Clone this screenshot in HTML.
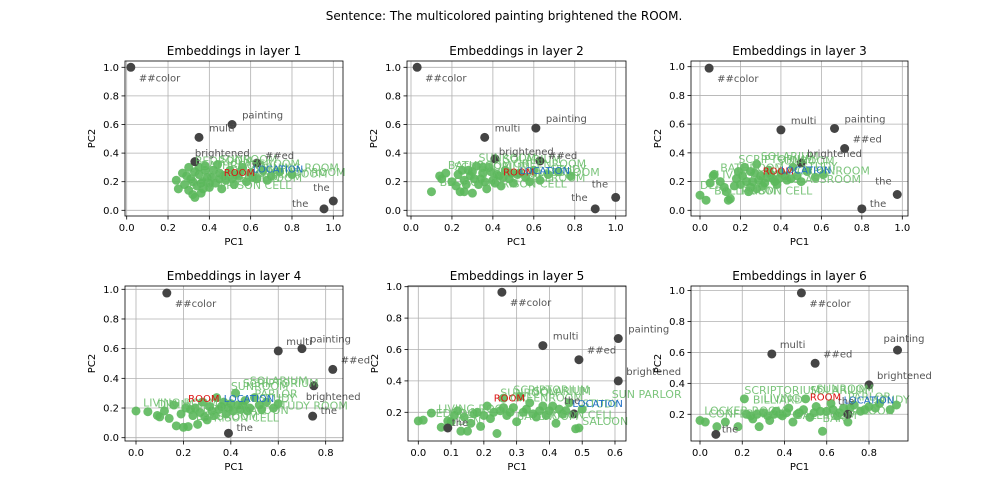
<!DOCTYPE html>
<html><head><meta charset="utf-8"><style>
body{margin:0;background:#fff}
svg{display:block;font-family:"DejaVu Sans","Liberation Sans",sans-serif}
</style></head><body>
<svg id="fig" width="1008" height="504" viewBox="0 0 1008 504">
<rect width="1008" height="504" fill="#fff"/>
<text x="504" y="20" font-size="12" text-anchor="middle" fill="#000">Sentence: The multicolored painting brightened the ROOM.</text>
</svg>
<script>
const tokenNames = ['##color','multi','painting','brightened','##ed','the','the'];
const tokX1=[0.02,0.35,0.51,0.33,0.63,1.0,0.955], tokY1=[1.0,0.51,0.60,0.34,0.33,0.065,0.01];
const tokX2=[0.03,0.36,0.61,0.41,0.63,1.0,0.9], tokY2=[1.0,0.51,0.575,0.36,0.345,0.09,0.01];
const tokX3=[0.045,0.40,0.665,0.5,0.715,0.975,0.8], tokY3=[0.99,0.56,0.57,0.33,0.43,0.11,0.01];
const tokX4=[0.13,0.6,0.7,0.75,0.83,0.745,0.39], tokY4=[0.975,0.585,0.6,0.35,0.46,0.145,0.03];
const tokX5=[0.255,0.38,0.61,0.61,0.49,0.475,0.09], tokY5=[0.965,0.625,0.67,0.40,0.535,0.19,0.10];
const tokX6=[0.48,0.34,0.935,0.8,0.545,0.075,0.7], tokY6=[0.985,0.59,0.615,0.39,0.53,0.07,0.2];

const gX1=[0.24,0.25,0.27,0.28,0.3,0.31,0.32,0.33,0.34,0.35,0.36,0.37,0.38,0.4,0.41,0.43,0.45,0.46,0.48,0.5,0.52,0.54,0.56,0.58,0.6,0.63,0.66,0.7,0.74,0.8,0.38,0.3,0.44,
 0.29,0.33,0.36,0.39,0.42,0.47,0.51,0.55,0.61,0.68,0.35,0.4,0.32,0.45,0.53,0.37];
const gY1=[0.21,0.15,0.26,0.18,0.14,0.22,0.11,0.09,0.17,0.25,0.12,0.2,0.28,0.16,0.23,0.19,0.26,0.15,0.21,0.28,0.18,0.24,0.3,0.2,0.26,0.22,0.28,0.24,0.27,0.25,0.31,0.3,0.32,
 0.24,0.27,0.19,0.23,0.28,0.24,0.22,0.27,0.23,0.21,0.3,0.19,0.2,0.22,0.25,0.15];
const gX2=[0.1,0.14,0.15,0.17,0.2,0.22,0.24,0.26,0.28,0.3,0.31,0.33,0.35,0.37,0.38,0.4,0.42,0.44,0.46,0.48,0.5,0.53,0.56,0.6,0.63,0.67,0.72,0.78,0.26,0.32,
 0.23,0.27,0.29,0.34,0.36,0.39,0.41,0.45,0.52,0.58,0.3,0.35,0.25,0.43,0.49];
const gY2=[0.13,0.24,0.22,0.26,0.2,0.17,0.13,0.13,0.28,0.12,0.22,0.18,0.26,0.15,0.3,0.21,0.25,0.17,0.28,0.22,0.19,0.26,0.23,0.28,0.21,0.25,0.27,0.24,0.21,0.31,
 0.25,0.18,0.24,0.22,0.2,0.27,0.19,0.23,0.25,0.2,0.27,0.3,0.28,0.24,0.26];
const gX3=[0.0,0.03,0.05,0.065,0.07,0.1,0.12,0.14,0.15,0.13,0.18,0.2,0.22,0.24,0.25,0.26,0.28,0.3,0.32,0.34,0.36,0.38,0.4,0.43,0.46,0.48,0.5,0.53,0.57,0.61,0.28,
 0.17,0.21,0.23,0.27,0.29,0.31,0.33,0.35,0.37,0.42,0.45,0.25,0.19,0.39];
const gY3=[0.105,0.07,0.19,0.24,0.25,0.2,0.16,0.07,0.08,0.13,0.22,0.18,0.3,0.13,0.27,0.2,0.15,0.24,0.19,0.28,0.22,0.18,0.26,0.21,0.3,0.24,0.2,0.27,0.23,0.25,0.32,
 0.17,0.24,0.2,0.26,0.21,0.17,0.23,0.25,0.2,0.24,0.22,0.16,0.27,0.22];
const gX4=[0.0,0.05,0.09,0.1,0.12,0.14,0.16,0.17,0.2,0.22,0.24,0.25,0.26,0.28,0.3,0.32,0.34,0.36,0.38,0.4,0.42,0.44,0.46,0.48,0.5,0.52,0.55,0.58,0.6,0.29,
 0.23,0.27,0.31,0.33,0.35,0.37,0.39,0.41,0.43,0.45,0.47,0.53,0.21,0.19];
const gY4=[0.18,0.175,0.15,0.14,0.18,0.13,0.22,0.08,0.07,0.075,0.15,0.2,0.09,0.24,0.12,0.18,0.27,0.21,0.16,0.23,0.3,0.19,0.25,0.2,0.27,0.22,0.24,0.2,0.23,0.14,
 0.19,0.17,0.21,0.15,0.19,0.24,0.2,0.18,0.22,0.22,0.18,0.19,0.2,0.16];
const gX5=[0.0,0.015,0.04,0.07,0.09,0.1,0.12,0.13,0.15,0.14,0.16,0.18,0.19,0.21,0.22,0.24,0.25,0.26,0.27,0.29,0.31,0.32,0.34,0.36,0.38,0.4,0.42,0.44,0.46,0.48,0.49,0.5,0.3,
 0.17,0.2,0.23,0.28,0.33,0.35,0.37,0.39,0.41,0.43,0.45,0.26,0.11];
const gY5=[0.145,0.15,0.195,0.105,0.145,0.14,0.21,0.08,0.08,0.17,0.13,0.2,0.11,0.24,0.16,0.065,0.21,0.29,0.18,0.23,0.3,0.2,0.26,0.17,0.24,0.21,0.13,0.19,0.26,0.095,0.1,0.22,0.14,
 0.19,0.18,0.2,0.2,0.22,0.19,0.21,0.18,0.24,0.22,0.21,0.23,0.18];
const gX6=[0.0,0.025,0.08,0.12,0.18,0.21,0.22,0.25,0.28,0.3,0.33,0.36,0.39,0.42,0.44,0.47,0.5,0.52,0.55,0.58,0.6,0.62,0.65,0.68,0.7,0.73,0.76,0.8,0.85,0.9,0.93,0.35,
 0.27,0.32,0.38,0.41,0.46,0.49,0.54,0.57,0.63,0.66,0.71,0.78,0.83,0.24];
const gY6=[0.16,0.15,0.12,0.15,0.12,0.3,0.2,0.17,0.12,0.21,0.16,0.22,0.19,0.24,0.15,0.21,0.3,0.18,0.25,0.09,0.22,0.27,0.19,0.24,0.15,0.26,0.22,0.25,0.27,0.23,0.26,0.2,
 0.2,0.19,0.2,0.21,0.2,0.23,0.21,0.22,0.23,0.21,0.24,0.23,0.24,0.19];

const lblT1=['BEDROOM','BATHROOM','SCRIPTORIUM','CLASSROOM','SUNROOM','GREENROOM','STUDY ROOM','PRISON CELL','LIVING ROOM','BALLROOM','DEN','SALOON','DINING ROOM'];
const lblX1=[0.33,0.36,0.3,0.5,0.45,0.62,0.7,0.45,0.38,0.55,0.3,0.5,0.65];
const lblY1=[0.32,0.29,0.22,0.3,0.33,0.23,0.24,0.15,0.2,0.2,0.15,0.25,0.27];
const lblT2=['SCRIPTORIUM','SUNROOM','SOLARIUM','BATHROOM','BEDROOM','PRISON CELL','CLASSROOM','STUDY','GREENROOM','LIVING ROOM','BALLROOM'];
const lblX2=[0.21,0.33,0.45,0.18,0.14,0.41,0.58,0.68,0.5,0.3,0.55];
const lblY2=[0.28,0.34,0.33,0.29,0.17,0.16,0.24,0.26,0.3,0.23,0.2];
const lblT3=['SCRIPTORIUM','SOLARIUM','BATHROOM','LIVING ROOM','DEN','BALLROOM','PRISON CELL','STUDY','CLASSROOM','GREENROOM','SUNROOM'];
const lblX3=[0.19,0.3,0.1,0.08,0.0,0.07,0.2,0.5,0.45,0.48,0.38];
const lblY3=[0.33,0.35,0.27,0.22,0.15,0.11,0.11,0.28,0.19,0.25,0.32];
const lblT4=['LIVING ROOM','DINING','SUNROOM','SOLARIUM','SCRIPTORIUM','PARLOR','STUDY','CLASSROOM','PRISON CELL','SALOON','STUDY ROOM','BEDROOM'];
const lblX4=[0.03,0.09,0.4,0.48,0.45,0.5,0.52,0.22,0.3,0.45,0.58,0.25];
const lblY4=[0.21,0.2,0.32,0.36,0.34,0.27,0.24,0.12,0.11,0.16,0.19,0.17];
const lblT5=['LIVING ROOM','BEDROOM','SUNROOM','SOLARIUM','SCRIPTORIUM','GREENROOM','SUN PARLOR','STUDY','BALLROOM','SALOON','PRISON CELL','DEN'];
const lblX5=[0.06,0.03,0.25,0.35,0.29,0.28,0.59,0.5,0.3,0.5,0.38,0.12];
const lblY5=[0.2,0.17,0.3,0.31,0.32,0.27,0.29,0.23,0.15,0.12,0.16,0.12];
const lblT6=['SCRIPTORIUM','SOLARIUM','SUNROOM','LOCKER ROOM','CONFERENCE','BILLIARD','LIVING','PARLOR','STUDY','SALOON','BAR','BALLROOM'];
const lblX6=[0.21,0.52,0.55,0.02,0.04,0.25,0.3,0.7,0.82,0.7,0.58,0.45];
const lblY6=[0.33,0.33,0.34,0.2,0.18,0.27,0.28,0.29,0.27,0.2,0.15,0.17];

const roomX=[0.47,0.45,0.31,0.22,0.23,0.52], roomY=[0.24,0.245,0.25,0.24,0.27,0.29];
const locX=[0.61,0.53,0.40,0.37,0.47,0.68], locY=[0.265,0.255,0.255,0.24,0.235,0.27];

const xTicks=[[0,0.2,0.4,0.6,0.8,1.0],[0,0.2,0.4,0.6,0.8,1.0],[0,0.2,0.4,0.6,0.8,1.0],[0,0.2,0.4,0.6,0.8],[0,0.1,0.2,0.3,0.4,0.5,0.6],[0,0.2,0.4,0.6,0.8]];
const yTicks=[[0,0.2,0.4,0.6,0.8,1.0],[0,0.2,0.4,0.6,0.8,1.0],[0,0.2,0.4,0.6,0.8,1.0],[0,0.2,0.4,0.6,0.8,1.0],[0.2,0.4,0.6,0.8,1.0],[0.2,0.4,0.6,0.8,1.0]];

// axis calibration (layout)
const axes=[
 {L:125,T:61,R:343,B:216,x0:126.7,ux:206.6,y0:210.3,uy:143},
 {L:407,T:61,R:626,B:216,x0:411,ux:204.7,y0:210.3,uy:143},
 {L:691,T:61,R:908,B:216,x0:700,ux:202.3,y0:210.3,uy:143.6},
 {L:125,T:286,R:343,B:441,x0:136,ux:237.1,y0:437.7,uy:148.4},
 {L:408,T:286,R:626,B:441,x0:418.3,ux:327.8,y0:443.7,uy:157},
 {L:691,T:286,R:908,B:441,x0:700,ux:211.25,y0:445.2,uy:154.6}];
const tokX=[tokX1,tokX2,tokX3,tokX4,tokX5,tokX6], tokY=[tokY1,tokY2,tokY3,tokY4,tokY5,tokY6];
const gX=[gX1,gX2,gX3,gX4,gX5,gX6], gY=[gY1,gY2,gY3,gY4,gY5,gY6];
const lT=[lblT1,lblT2,lblT3,lblT4,lblT5,lblT6], lX=[lblX1,lblX2,lblX3,lblX4,lblX5,lblX6], lY=[lblY1,lblY2,lblY3,lblY4,lblY5,lblY6];
// label offsets per token (style)
const offs=[
 [[8,14],[10,-6],[10,-6],[0,-5],[8,-4],[-20,-10],[-32,-2]],
 [[8,14],[10,-6],[10,-6],[4,-4],[8,-2],[-24,-10],[-24,-8]],
 [[8,14],[10,-6],[10,-6],[6,-6],[8,-6],[-22,-10],[8,-2]],
 [[8,14],[8,-6],[8,-6],[-8,14],[8,-6],[8,-2],[8,-2]],
 [[8,14],[10,-6],[10,-6],[8,-6],[8,-6],[-10,-10],[4,-2]],
 [[8,14],[8,-6],[-14,-8],[8,-6],[8,-6],[6,-2],[-10,-10]]];
const NS='http://www.w3.org/2000/svg';
const svg=document.getElementById('fig');
function mk(tag,attrs,parent,txt){const e=document.createElementNS(NS,tag);for(const k in attrs)e.setAttribute(k,attrs[k]);if(txt!==undefined)e.textContent=txt;(parent||svg).appendChild(e);return e;}
axes.forEach((a,p)=>{
 const sx=v=>a.x0+v*a.ux, sy=v=>a.y0-v*a.uy;
 const g=mk('g',{});
 
 
 const cp='clip'+p;
 const cl=mk('clipPath',{id:cp},g); mk('rect',{x:a.L,y:a.T,width:a.R-a.L,height:a.B-a.T},cl);
 xTicks[p].forEach(t=>{const x=sx(t);
  mk('line',{x1:x,x2:x,y1:a.T,y2:a.B,stroke:'#b0b0b0','stroke-width':0.8},g);
  mk('line',{x1:x,x2:x,y1:a.B,y2:a.B+3.5,stroke:'#000','stroke-width':0.8},g);
  const tl=mk('text',{x:x,y:a.B+15,'font-size':10,'text-anchor':'middle',fill:'#000'},g,t.toFixed(1));
  
  });
 yTicks[p].forEach(t=>{const y=sy(t);
  mk('line',{x1:a.L,x2:a.R,y1:y,y2:y,stroke:'#b0b0b0','stroke-width':0.8},g);
  mk('line',{x1:a.L-3.5,x2:a.L,y1:y,y2:y,stroke:'#000','stroke-width':0.8},g);
  const tl=mk('text',{x:a.L-6,y:y+3.5,'font-size':10,'text-anchor':'end',fill:'#000'},g,t.toFixed(1));
  
  });
 const pl=mk('g',{'clip-path':'url(#'+cp+')'},g);
 gX[p].forEach((v,i)=>{const c=mk('circle',{cx:sx(v),cy:sy(gY[p][i]),r:4.5,fill:'#5cb85c','fill-opacity':0.9},pl);
  
  });
 tokX[p].forEach((v,i)=>{const c=mk('circle',{cx:sx(v),cy:sy(tokY[p][i]),r:4.5,fill:'#444'},pl);
  
  });
 const tg=mk('g',{},g);
 lT[p].forEach((s,i)=>{const t=mk('text',{x:sx(lX[p][i]),y:sy(lY[p][i]),'font-size':11,fill:'#66bb66','fill-opacity':0.85},tg,s);
  
  });
 tokX[p].forEach((v,i)=>{const o=offs[p][i];const t=mk('text',{x:sx(v)+o[0],y:sy(tokY[p][i])+o[1],'font-size':10,fill:'#555'},tg,tokenNames[i]);
  
  });
 const r=mk('text',{x:sx(roomX[p]),y:sy(roomY[p]),'font-size':10,fill:'#dd1111'},tg,'ROOM');
 
 
 const l=mk('text',{x:sx(locX[p]),y:sy(locY[p]),'font-size':10,fill:'#1f6fc4'},tg,'LOCATION');
 
 
 mk('rect',{x:a.L,y:a.T,width:a.R-a.L,height:a.B-a.T,fill:'none',stroke:'#000','stroke-width':0.8},g);
 const ti=mk('text',{x:(a.L+a.R)/2,y:a.T-6,'font-size':12,'text-anchor':'middle',fill:'#000'},g,'Embeddings in layer '+(p+1));
 
 
 const xl=mk('text',{x:(a.L+a.R)/2,y:a.B+29,'font-size':10,'text-anchor':'middle',fill:'#000'},g,'PC1');
 
 
 const ym=(a.T+a.B)/2;
 const yl=mk('text',{x:a.L-30,y:ym,'font-size':10,'text-anchor':'middle',fill:'#000',transform:'rotate(-90 '+(a.L-30)+' '+ym+')'},g,'PC2');
 
 
});
</script>
</body></html>
